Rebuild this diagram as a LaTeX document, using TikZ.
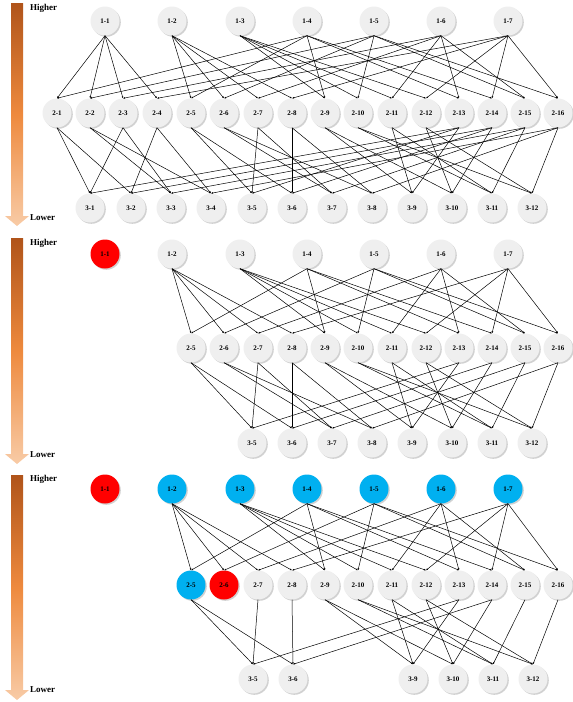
\documentclass[tikz,border=0pt]{standalone}
\usepackage{fontspec}
\setmainfont{Liberation Serif}
\usetikzlibrary{shadows,arrows.meta}
\definecolor{nodegray}{HTML}{EFEFEF}
\definecolor{hiblue}{HTML}{00B0F0}
\definecolor{hired}{HTML}{FF0000}
\definecolor{arrowtop}{HTML}{B0541A}
\definecolor{arrowmid}{HTML}{EE8A3E}
\definecolor{arrowbot}{HTML}{F8CBA6}
\tikzset{
  nd/.style={circle, minimum size=29pt, inner sep=0pt, fill=nodegray,
    font=\bfseries\fontsize{7}{8}\selectfont,
    drop shadow={shadow xshift=1.3pt, shadow yshift=-1.3pt, opacity=0.3, fill=black!60}},
  bluend/.style={nd, fill=hiblue},
  rednd/.style={nd, fill=hired},
  edge/.style={line width=0.5pt, -{Latex[length=2pt,width=1.8pt]}},
  lvl/.style={font=\bfseries\fontsize{9}{10}\selectfont, anchor=west, inner sep=0pt}
}
\newcommand\gradarrow[2]{%
  \shade[top color=arrowtop, bottom color=arrowbot, middle color=arrowmid]
    (11,#1) -- (23,#1) -- (23,#2-10) -- (29,#2-10) -- (17,#2) -- (5,#2-10) -- (11,#2-10) -- cycle;}
\begin{document}
\begin{tikzpicture}[x=1pt,y=-1pt]
\useasboundingbox (0,0) rectangle (573,702);

% ---------- left arrows and labels ----------
\gradarrow{3}{226}
\gradarrow{238}{464}
\gradarrow{475}{700}
\node[lvl] (h1) at (30,8) {Higher};
\node[lvl] (l1) at (30,218) {Lower};
\node[lvl] (h2) at (30,243) {Higher};
\node[lvl] (l2) at (30,455) {Lower};
\node[lvl] (h3) at (30,479) {Higher};
\node[lvl] (l3) at (30,690) {Lower};

% ---------- TOP PANEL ----------
\foreach \i/\x in {1/105,2/172,3/240,4/307,5/374,6/441,7/508}
  \node[nd] (T1-\i) at (\x,21) {1-\i};
\foreach \i/\x in {1/57,2/90,3/123,4/157,5/191,6/224,7/258,8/292,9/325,10/358,11/392,12/426,13/459,14/492,15/525,16/558}
  \node[nd] (T2-\i) at (\x,113) {2-\i};
\foreach \i/\x in {1/90,2/131,3/171,4/211,5/252,6/292,7/332,8/372,9/412,10/452,11/492,12/532}
  \node[nd] (T3-\i) at (\x,208) {3-\i};
\foreach \p/\cs in {1/{1,2,3,4},2/{5,6,7,8},3/{9,10,11,12},4/{1,5,9,13,14},5/{2,6,10,15,16},6/{3,7,11,13,15},7/{4,8,12,14,16}}
  \foreach \c in \cs \draw[edge] (T1-\p.south) -- (T2-\c.north);
\foreach \p/\cs in {1/{1,2},2/{3,4},3/{1,3},4/{2,4},5/{5,6},6/{7,8},7/{5,7},8/{6,8},9/{9,10},10/{11,12},11/{9,11},12/{10,12},13/{1,5,9},14/{2,6,10},15/{3,7,11},16/{4,8,12}}
  \foreach \c in \cs \draw[edge] (T2-\p.south) -- (T3-\c.north);

% ---------- MIDDLE PANEL ----------
\node[rednd] (M1-1) at (105,254) {1-1};
\foreach \i/\x in {2/172,3/240,4/307,5/374,6/441,7/508}
  \node[nd] (M1-\i) at (\x,254) {1-\i};
\foreach \i/\x in {5/191,6/224,7/258,8/292,9/325,10/358,11/392,12/426,13/459,14/492,15/525,16/558}
  \node[nd] (M2-\i) at (\x,348) {2-\i};
\foreach \i/\x in {5/252,6/292,7/332,8/372,9/412,10/452,11/492,12/532}
  \node[nd] (M3-\i) at (\x,443) {3-\i};
\foreach \p/\cs in {2/{5,6,7,8},3/{9,10,11,12},4/{5,9,13,14},5/{6,10,15,16},6/{7,11,13,15},7/{8,12,14,16}}
  \foreach \c in \cs \draw[edge] (M1-\p.south) -- (M2-\c.north);
\foreach \p/\cs in {5/{5,6},6/{7,8},7/{5,7},8/{6,8},9/{9,10},10/{11,12},11/{9,11},12/{10,12},13/{5,9},14/{6,10},15/{7,11},16/{8,12}}
  \foreach \c in \cs \draw[edge] (M2-\p.south) -- (M3-\c.north);

% ---------- BOTTOM PANEL ----------
\node[rednd] (B1-1) at (105,489) {1-1};
\foreach \i/\x in {2/172,3/240,4/307,5/374,6/441,7/508}
  \node[bluend] (B1-\i) at (\x,489) {1-\i};
\node[bluend] (B2-5) at (191,585) {2-5};
\node[rednd] (B2-6) at (224,585) {2-6};
\foreach \i/\x in {7/258,8/292,9/325,10/358,11/392,12/426,13/459,14/492,15/525,16/558}
  \node[nd] (B2-\i) at (\x,585) {2-\i};
\foreach \i/\x in {5/253,6/293,9/413,10/453,11/493,12/533}
  \node[nd] (B3-\i) at (\x,679) {3-\i};
\foreach \p/\cs in {2/{5,6,7,8},3/{9,10,11,12},4/{5,9,13,14},5/{6,10,15,16},6/{7,11,13,15},7/{8,12,14,16}}
  \foreach \c in \cs \draw[edge] (B1-\p.south) -- (B2-\c.north);
\foreach \p/\cs in {5/{5,6},7/{5},8/{6},9/{9,10},10/{11,12},11/{9,11},12/{10,12},13/{5,9},14/{6,10},15/{11},16/{12}}
  \foreach \c in \cs \draw[edge] (B2-\p.south) -- (B3-\c.north);
\end{tikzpicture}
\end{document}
